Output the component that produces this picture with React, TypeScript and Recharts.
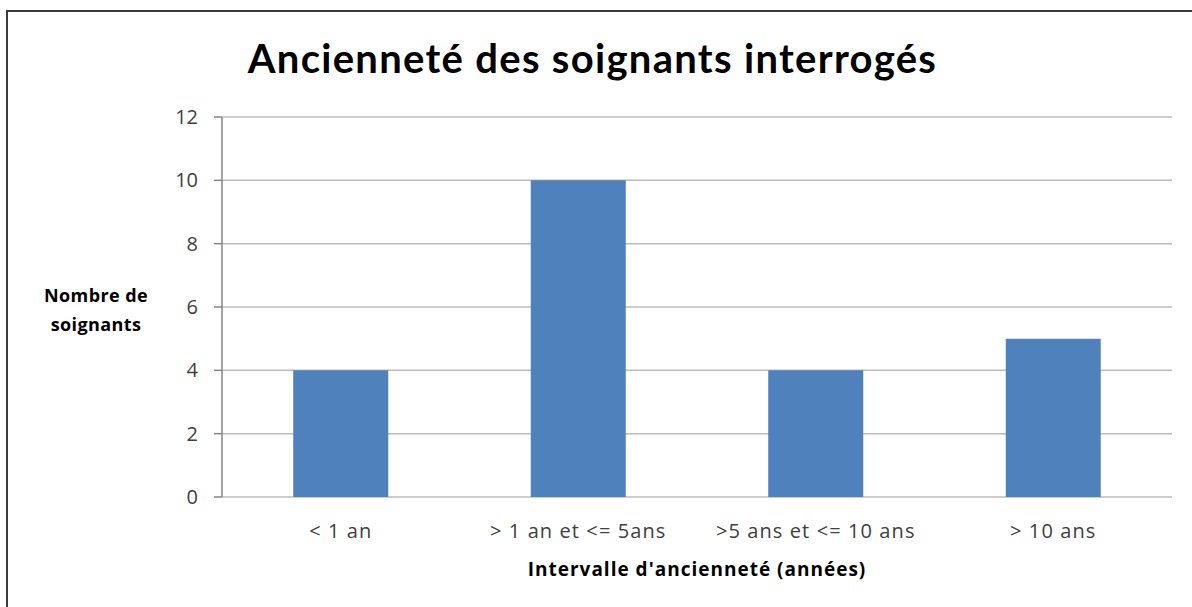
import { BarChart, Bar, XAxis, YAxis, CartesianGrid, Label } from 'recharts';

const categories = ['< 1 an', '> 1 an et <= 5ans', '>5 ans et <= 10 ans', '> 10 ans'];
const soignants = [4, 10, 4, 5];
const yTicks = [0, 2, 4, 6, 8, 10, 12];
const boundaryTicks = [0, 1, 2, 3, 4];

const data = categories.map((name, i) => ({ name, value: soignants[i], pos: i + 0.5 }));

const FONT = '"Open Sans", Lato, sans-serif';
const TITLE_FONT = 'Lato, "Open Sans", sans-serif';
const AXIS = '#868686';

const YLabel = () => (
  <text x={96} y={302} textAnchor="middle" fontFamily={FONT} fontWeight={700} fontSize={18} fill="#000" letterSpacing={0.4}>
    <tspan x={96} dy={0}>Nombre de</tspan>
    <tspan x={96} dy={29}>soignants</tspan>
  </text>
);

const XLabel = () => (
  <text x={697} y={576} textAnchor="middle" fontFamily={FONT} fontWeight={700} fontSize={19} fill="#000" letterSpacing={1}>
    Intervalle d'ancienneté (années)
  </text>
);

export default function App() {
  return (
    <div style={{ position: 'fixed', left: 0, top: 0, width: 1192, height: 607, overflow: 'hidden', background: '#fff' }}>
      <div
        style={{
          position: 'absolute', left: 6, top: 10, width: 1200, height: 620,
          borderTop: '2px solid #3a3a3a', borderLeft: '2px solid #3a3a3a', boxSizing: 'border-box',
        }}
      />
      <div
        style={{
          position: 'absolute', left: 0, top: 34, width: 1185, textAlign: 'center',
          fontFamily: TITLE_FONT, fontWeight: 700, fontSize: 40, letterSpacing: 1.3,
          color: '#000', lineHeight: '48px', whiteSpace: 'nowrap',
        }}
      >
        Ancienneté des soignants interrogés
      </div>
      <div style={{ position: 'absolute', left: 0, top: 0 }}>
        <BarChart
          width={1192}
          height={607}
          data={data}
          margin={{ top: 117, right: 20, bottom: 0, left: 0 }}
          barCategoryGap="30%"
        >
          <CartesianGrid xAxisId="num" yAxisId="y" vertical={false} stroke="#bcbcbc" strokeWidth={1.5} />
          <XAxis
            xAxisId="num"
            type="number"
            dataKey="pos"
            domain={[0, 4]}
            ticks={boundaryTicks}
            height={0}
            tick={false}
            tickSize={8}
            stroke={AXIS}
            axisLine={{ stroke: AXIS, strokeWidth: 1.5 }}
            tickLine={{ stroke: AXIS, strokeWidth: 1.5 }}
          />
          <XAxis
            xAxisId="cat"
            dataKey="name"
            height={110}
            axisLine={false}
            tickLine={false}
            tickSize={0}
            tickMargin={27}
            interval={0}
            tick={{ fontFamily: FONT, fontSize: 20, fill: '#404040', letterSpacing: 1.1 }}
          >
            <Label content={<XLabel />} />
          </XAxis>
          <YAxis
            yAxisId="y"
            width={222}
            domain={[0, 12]}
            ticks={yTicks}
            interval={0}
            tickSize={8}
            tickMargin={16}
            axisLine={{ stroke: AXIS, strokeWidth: 1.5 }}
            tickLine={{ stroke: AXIS, strokeWidth: 1.5 }}
            tick={{ fontFamily: FONT, fontSize: 20, fill: '#404040' }}
          >
            <Label content={<YLabel />} />
          </YAxis>
          <Bar xAxisId="cat" yAxisId="y" dataKey="value" fill="#4F81BD" isAnimationActive={false} />
        </BarChart>
      </div>
    </div>
  );
}
